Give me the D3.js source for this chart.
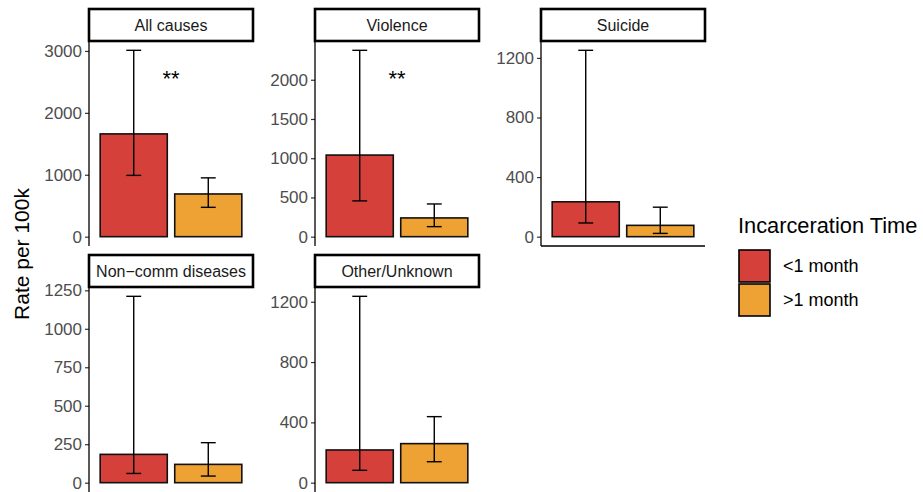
<!DOCTYPE html>
<html>
<head>
<meta charset="utf-8">
<script src="https://cdn.jsdelivr.net/npm/d3@7"></script>
<style>
  body { margin: 0; background: #fff; }
  svg text { font-family: "Liberation Sans", Arial, Helvetica, sans-serif; }
</style>
</head>
<body>
<div id="chart"></div>
<script>
// Daten: Rate pro 100k nach Todesursache und Haftdauer
var causes = ["All causes", "Violence", "Suicide", "Non\u2212comm diseases", "Other/Unknown"];
var groups = ["<1 month", ">1 month"];
var groupColors = ["#d6403b", "#eea234"];

var rateShort = [1660, 1040, 234, 184, 217];
var lowShort  = [990, 456, 92, 60, 82];
var highShort = [3010, 2375, 1251, 1211, 1236];

var rateLong  = [690, 239, 76, 119, 259];
var lowLong   = [474, 128, 22, 43, 139];
var highLong  = [950, 417, 198, 260, 438];

var yTicks = [
  [0, 1000, 2000, 3000],
  [0, 500, 1000, 1500, 2000],
  [0, 400, 800, 1200],
  [0, 250, 500, 750, 1000, 1250],
  [0, 400, 800, 1200]
];

// Signifikanz-Sterne
var sigLabel = ["**", "**", "", "", ""];
var sigY = [2590, 2050, 0, 0, 0];

// Layout
var width = 923, height = 492;
var colX = [89, 315, 541], panelW = 164;
var rowTop = [9, 255], stripH = 32, panelH = 205;

var svg = d3.select("#chart").append("svg")
  .attr("width", width)
  .attr("height", height);

// x-Skala: zwei Gruppen, ggplot-artige Ausdehnung
var x = d3.scaleLinear().domain([0.4, 2.6]).range([0, panelW]);
var barW = 0.9, capW = 0.2;

causes.forEach(function(cause, i) {
  var col = i % 3, row = Math.floor(i / 3);
  var px = colX[col], sy = rowTop[row], py = sy + stripH;

  var maxV = highShort[i] > highLong[i] ? highShort[i] : highLong[i];
  var y = d3.scaleLinear()
    .domain([-0.05 * maxV, 1.05 * maxV])
    .range([panelH, 0]);

  var g = svg.append("g").attr("transform", "translate(" + px + "," + py + ")");

  // Balken
  var bars = [
    { k: 1, v: rateShort[i], lo: lowShort[i], hi: highShort[i], c: groupColors[0] },
    { k: 2, v: rateLong[i],  lo: lowLong[i],  hi: highLong[i],  c: groupColors[1] }
  ];

  g.selectAll("rect.bar").data(bars).enter().append("rect")
    .attr("class", "bar")
    .attr("x", function(d) { return x(d.k - barW / 2); })
    .attr("width", x(barW) - x(0))
    .attr("y", function(d) { return y(d.v); })
    .attr("height", function(d) { return y(0) - y(d.v); })
    .style("fill", function(d) { return d.c; })
    .style("stroke", "#111")
    .style("stroke-width", 1.6);

  // Fehlerbalken
  var eb = g.selectAll("g.err").data(bars).enter().append("g").attr("class", "err")
    .style("stroke", "#000").style("stroke-width", 1.4).style("fill", "none");
  eb.append("line")
    .attr("x1", function(d) { return x(d.k); }).attr("x2", function(d) { return x(d.k); })
    .attr("y1", function(d) { return y(d.lo); }).attr("y2", function(d) { return y(d.hi); });
  eb.append("line")
    .attr("x1", function(d) { return x(d.k - capW / 2); }).attr("x2", function(d) { return x(d.k + capW / 2); })
    .attr("y1", function(d) { return y(d.hi); }).attr("y2", function(d) { return y(d.hi); });
  eb.append("line")
    .attr("x1", function(d) { return x(d.k - capW / 2); }).attr("x2", function(d) { return x(d.k + capW / 2); })
    .attr("y1", function(d) { return y(d.lo); }).attr("y2", function(d) { return y(d.lo); });

  // Sterne
  if (sigLabel[i]) {
    g.append("text")
      .attr("x", x(1.5))
      .attr("y", y(sigY[i]) + 10)
      .attr("text-anchor", "middle")
      .style("font-size", "22px")
      .style("fill", "#000")
      .text(sigLabel[i]);
  }

  // y-Achse
  var axis = d3.axisLeft(y).tickValues(yTicks[i]).tickFormat(d3.format("d"))
    .tickSize(4).tickPadding(3);
  var ag = g.append("g").call(axis);
  ag.select(".domain").remove();
  ag.selectAll(".tick line").style("stroke", "#333").style("stroke-width", 1.2);
  ag.selectAll(".tick text").style("font-size", "17px").style("fill", "#4d4d4d");
  g.append("line")
    .attr("x1", 0).attr("x2", 0).attr("y1", 0).attr("y2", panelH)
    .style("stroke", "#000").style("stroke-width", 1.3);

  // x-Achsenlinie nur beim Suizid-Panel (kein Panel darunter, untere Reihe liegt ausserhalb)
  if (row === 0 && col === 2) {
    g.append("line")
      .attr("x1", 0).attr("x2", panelW).attr("y1", panelH).attr("y2", panelH)
      .style("stroke", "#000").style("stroke-width", 1.3);
  }

  // Streifen mit Titel
  svg.append("rect")
    .attr("x", px).attr("y", sy)
    .attr("width", panelW).attr("height", stripH)
    .style("fill", "#fff")
    .style("stroke", "#000")
    .style("stroke-width", 2.6);
  svg.append("text")
    .attr("x", px + panelW / 2)
    .attr("y", sy + stripH / 2 + 5.5)
    .attr("text-anchor", "middle")
    .style("font-size", "16px")
    .style("fill", "#1a1a1a")
    .text(cause);
});

// y-Achsentitel
svg.append("text")
  .attr("transform", "translate(29,254) rotate(-90)")
  .attr("text-anchor", "middle")
  .style("font-size", "21px")
  .style("fill", "#000")
  .text("Rate per 100k");

// Legende
var legend = svg.append("g").attr("transform", "translate(738,0)");
legend.append("text")
  .attr("x", 0).attr("y", 233)
  .style("font-size", "21.8px")
  .style("fill", "#000")
  .text("Incarceration Time");

var keys = legend.selectAll("g.key").data(groups).enter().append("g").attr("class", "key")
  .attr("transform", function(d, j) { return "translate(0," + (250 + j * 34) + ")"; });
keys.append("rect")
  .attr("x", 1).attr("y", 0).attr("width", 31).attr("height", 32)
  .style("fill", function(d, j) { return groupColors[j]; })
  .style("stroke", "#000")
  .style("stroke-width", 1.6);
keys.append("text")
  .attr("x", 45).attr("y", 22)
  .style("font-size", "18px")
  .style("fill", "#000")
  .text(function(d) { return d; });
</script>
</body>
</html>
